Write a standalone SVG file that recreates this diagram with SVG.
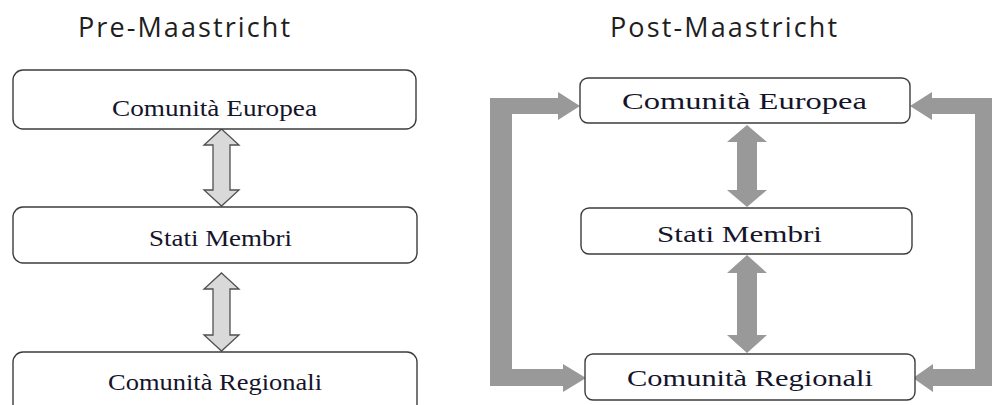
<svg xmlns="http://www.w3.org/2000/svg" width="993" height="405" viewBox="0 0 993 405">
<defs>
<style>
.title{font-family:"Open Sans","DejaVu Sans",sans-serif;font-size:27px;fill:#1e1e1e;}
.box{fill:#fff;stroke:#3c3c3c;stroke-width:1.4;}
.lbl{font-family:"Liberation Serif","Times New Roman",serif;font-size:23px;fill:#14142a;text-anchor:start;}
.dbl{fill:#d9d9d9;stroke:#505050;stroke-width:1.3;stroke-linejoin:miter;}
.gray{fill:#999999;stroke:none;}
</style>
</defs>
<rect width="993" height="405" fill="#fff"/>
<g id="titles">
<text class="title" x="78" y="37" textLength="212" lengthAdjust="spacing">Pre-Maastricht</text>
<text class="title" x="610" y="37" textLength="227" lengthAdjust="spacing">Post-Maastricht</text>
</g>
<g id="connectors">
<path class="dbl" d="M221.5,129 L239,145 L230,145 L230,190 L239,190 L221.5,206 L204,190 L213,190 L213,145 L204,145 Z"/>
<path class="dbl" d="M221.5,273 L239,289 L230,289 L230,335 L239,335 L221.5,351 L204,335 L213,335 L213,289 L204,289 Z"/>
<path class="gray" d="M747,125 L767,142 L757,142 L757,190 L767,190 L747,207 L727,190 L737,190 L737,142 L727,142 Z"/>
<path class="gray" d="M747,255 L767,273 L757,273 L757,335 L767,335 L747,353 L727,335 L737,335 L737,273 L727,273 Z"/>
<path class="gray" d="M490,98 L558,98 L558,92 L580,106 L558,120 L558,114 L512,114 L512,369 L563,369 L563,364 L586,378 L563,392 L563,386 L490,386 Z"/>
<path class="gray" d="M992,98 L932,98 L932,92 L910,106 L932,120 L932,114 L975,114 L975,369 L933,369 L933,364 L913,378 L933,392 L933,386 L992,386 Z"/>
</g>
<g id="pre-ce">
<rect class="box" x="13" y="70" width="403" height="59" rx="10"/>
<text class="lbl" x="112" y="116" textLength="205" lengthAdjust="spacingAndGlyphs">Comunità Europea</text>
</g>
<g id="pre-sm">
<rect class="box" x="13" y="207" width="404" height="56" rx="10"/>
<text class="lbl" x="149" y="246" textLength="143" lengthAdjust="spacingAndGlyphs">Stati Membri</text>
</g>
<g id="pre-cr">
<rect class="box" x="13" y="352" width="404" height="62" rx="10"/>
<text class="lbl" x="108" y="390" textLength="214" lengthAdjust="spacingAndGlyphs">Comunità Regionali</text>
</g>
<g id="post-ce">
<rect class="box" x="580" y="78" width="330" height="45" rx="8"/>
<text class="lbl" x="622" y="109" textLength="245" lengthAdjust="spacingAndGlyphs">Comunità Europea</text>
</g>
<g id="post-sm">
<rect class="box" x="581" y="208" width="331" height="46" rx="8"/>
<text class="lbl" x="657" y="242" textLength="165" lengthAdjust="spacingAndGlyphs">Stati Membri</text>
</g>
<g id="post-cr">
<rect class="box" x="585" y="354" width="330" height="46" rx="8"/>
<text class="lbl" x="627" y="386" textLength="246" lengthAdjust="spacingAndGlyphs">Comunità Regionali</text>
</g>
</svg>
